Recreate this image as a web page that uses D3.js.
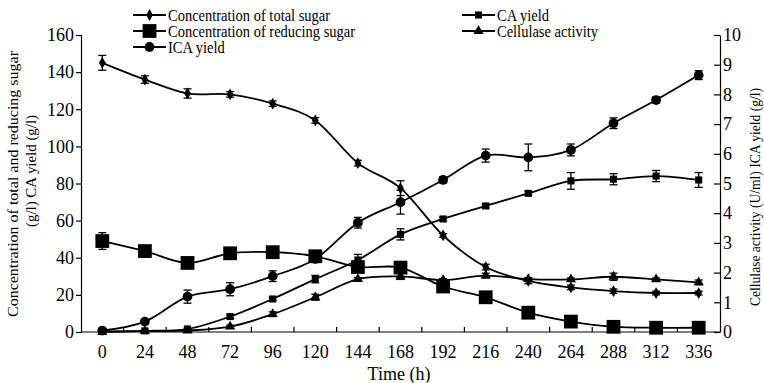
<!DOCTYPE html>
<html>
<head>
<meta charset="utf-8">
<script src="https://cdn.jsdelivr.net/npm/d3@7"></script>
<style>
  body { margin: 0; background: #fff; }
  svg { display: block; font-family: "Liberation Serif", "Times New Roman", serif; }
  .axis path, .axis line { stroke: #000; stroke-width: 1.2; }
  .axis text { font-size: 18px; fill: #000; font-family: "Liberation Serif", serif; }
</style>
</head>
<body>
<svg id="chart"></svg>
<script>
var width = 764;
var height = 383;
var margin = {top: 35, right: 44, bottom: 51, left: 81};

// data
var hours = ['0', '24', '48', '72', '96', '120', '144', '168', '192', '216', '240', '264', '288', '312', '336'];
var totalSugar = [145, 136, 128.5, 128, 123, 114, 91, 77.5, 52, 35, 27.5, 24, 22, 21, 21];
var totalSugarErr = [4, 2, 2.5, 1.5, 1.5, 1.5, 1.5, 4, 1, 1.5, 1.5, 1.2, 1.2, 1, 1];
var reducingSugar = [49, 43.6, 37.2, 42.4, 43, 40.8, 35, 34.7, 24.5, 18.7, 10.4, 5.6, 2.8, 2.3, 2.3];
var reducingSugarErr = [4.5, 1, 1, 1, 1, 1, 3, 1, 1, 1, 1, 0.5, 0.5, 0.5, 0.5];
var caYield = [0.3, 0.6, 1.6, 8.3, 17.8, 28.5, 38.8, 52.6, 60.9, 67.9, 74.7, 81.4, 82.3, 84, 81.9];
var caYieldErr = [0.5, 0.5, 0.5, 1, 1, 2, 3, 3, 1, 1, 1, 4.5, 3, 3, 4];
var cellulase = [0, 0.03, 0.05, 0.18, 0.6, 1.17, 1.78, 1.87, 1.75, 1.9, 1.78, 1.77, 1.86, 1.77, 1.67];
var cellulaseErr = [0, 0, 0, 0.05, 0.08, 0.1, 0.05, 0.1, 0.05, 0.08, 0.05, 0.05, 0.12, 0.05, 0.08];
var icaYield = [0.05, 0.35, 1.19, 1.44, 1.88, 2.46, 3.68, 4.37, 5.12, 5.94, 5.88, 6.13, 7.03, 7.81, 8.65];
var icaYieldErr = [0.05, 0.05, 0.22, 0.22, 0.18, 0.1, 0.18, 0.4, 0.1, 0.22, 0.45, 0.2, 0.18, 0.1, 0.15];
var leftTicks = [0, 20, 40, 60, 80, 100, 120, 140, 160];
var rightTicks = [0, 1, 2, 3, 4, 5, 6, 7, 8, 9, 10];

var innerWidth = width - margin.left - margin.right;
var innerHeight = height - margin.top - margin.bottom;

var svg = d3.select('#chart')
    .attr('width', width)
    .attr('height', height);
var g = svg.append('g')
    .attr('transform', `translate(${margin.left},${margin.top})`);

var x = d3.scaleBand().domain(hours).range([0, innerWidth]);
var yL = d3.scaleLinear().domain([0, 160]).range([innerHeight, 0]);
var yR = d3.scaleLinear().domain([0, 10]).range([innerHeight, 0]);
var cx = h => x(h) + x.bandwidth() / 2;

// axes
var xAxis = g.append('g').attr('class', 'axis')
    .attr('transform', `translate(0,${innerHeight})`)
    .call(d3.axisBottom(x).tickSize(0).tickPadding(13));
xAxis.select('.domain').attr('d', `M0,0H${innerWidth}`);
// tick marks between categories, pointing inward
xAxis.selectAll('.sep').data(d3.range(1, hours.length))
    .enter().append('line')
    .attr('stroke', '#000')
    .attr('x1', i => i * x.step()).attr('x2', i => i * x.step())
    .attr('y1', 0).attr('y2', -5);

var leftAxis = g.append('g').attr('class', 'axis')
    .call(d3.axisLeft(yL).tickValues(leftTicks).tickSizeOuter(0).tickSize(5).tickPadding(2));
var rightAxis = g.append('g').attr('class', 'axis')
    .attr('transform', `translate(${innerWidth},0)`)
    .call(d3.axisRight(yR).tickValues(rightTicks).tickSizeOuter(0).tickSize(0).tickPadding(3));
rightAxis.selectAll('.tick line').attr('x2', -6);

// axis titles
function title(tx, ty, rot, str, len, size) {
    svg.append('text')
        .attr('transform', `translate(${tx},${ty}) rotate(${rot})`)
        .attr('text-anchor', 'middle').attr('font-size', size)
        .attr('textLength', len).attr('lengthAdjust', 'spacingAndGlyphs')
        .text(str);
}
title(18, 184, -90, 'Concentration of total and reducing sugar', 266, 15.5);
title(36, 171, -90, '(g/l) CA yield (g/l)', 112, 15.5);
title(760, 197, -90, 'Cellulase activity (U/ml) ICA yield (g/l)', 218, 15.5);
svg.append('text')
    .attr('x', 399).attr('y', 380)
    .attr('text-anchor', 'middle').attr('font-size', 18)
    .text('Time (h)');

var series = [
    {name: 'Concentration of total sugar', vals: totalSugar, err: totalSugarErr, y: yL, sym: d3.symbolDiamond, size: 40},
    {name: 'Concentration of reducing sugar', vals: reducingSugar, err: reducingSugarErr, y: yL, sym: d3.symbolSquare, size: 190},
    {name: 'ICA yield', vals: icaYield, err: icaYieldErr, y: yR, sym: d3.symbolCircle, size: 75},
    {name: 'CA yield', vals: caYield, err: caYieldErr, y: yL, sym: d3.symbolSquare, size: 50},
    {name: 'Cellulase activity', vals: cellulase, err: cellulaseErr, y: yR, sym: d3.symbolTriangle, size: 45}
];

var lineGen = d3.line().curve(d3.curveCatmullRom.alpha(0));

series.forEach(s => {
    var pts = hours.map((h, i) => [cx(h), s.y(s.vals[i])]);
    g.append('path')
        .attr('d', lineGen(pts))
        .attr('fill', 'none')
        .attr('stroke', '#000')
        .attr('stroke-width', 1.8);

    var eb = g.append('g').selectAll('g').data(hours).enter().append('g');
    eb.append('line')
        .attr('x1', h => cx(h)).attr('x2', h => cx(h))
        .attr('y1', (h, i) => s.y(s.vals[i] + s.err[i]))
        .attr('y2', (h, i) => s.y(Math.max(0, s.vals[i] - s.err[i])))
        .attr('stroke', '#000').attr('stroke-width', 1.3);
    [1, -1].forEach(sign => {
        eb.append('line')
            .attr('x1', h => cx(h) - 4).attr('x2', h => cx(h) + 4)
            .attr('y1', (h, i) => s.y(Math.max(0, s.vals[i] + sign * s.err[i])))
            .attr('y2', (h, i) => s.y(Math.max(0, s.vals[i] + sign * s.err[i])))
            .attr('stroke', '#000').attr('stroke-width', 1.3);
    });

    g.append('g').selectAll('path').data(hours).enter().append('path')
        .attr('transform', (h, i) => `translate(${cx(h)},${s.y(s.vals[i])})`)
        .attr('d', d3.symbol().type(s.sym).size(s.size))
        .attr('fill', '#000');
});

// legend
var legendPos = [
    {x: 133, y: 15}, {x: 133, y: 31}, {x: 133, y: 47},
    {x: 462, y: 15}, {x: 462, y: 31}
];
series.forEach((s, i) => {
    var p = legendPos[i];
    var lg = svg.append('g').attr('transform', `translate(${p.x},${p.y})`);
    lg.append('line').attr('x1', 0).attr('x2', 33).attr('y1', 0).attr('y2', 0)
        .attr('stroke', '#000').attr('stroke-width', 1.8);
    lg.append('path').attr('transform', 'translate(16.5,0)')
        .attr('d', d3.symbol().type(s.sym).size(s.size)).attr('fill', '#000');
    lg.append('text').attr('transform', 'translate(35,0) scale(1,1.15)')
        .attr('dy', '0.33em')
        .attr('font-size', 14.5).text(s.name);
});
</script>
</body>
</html>
